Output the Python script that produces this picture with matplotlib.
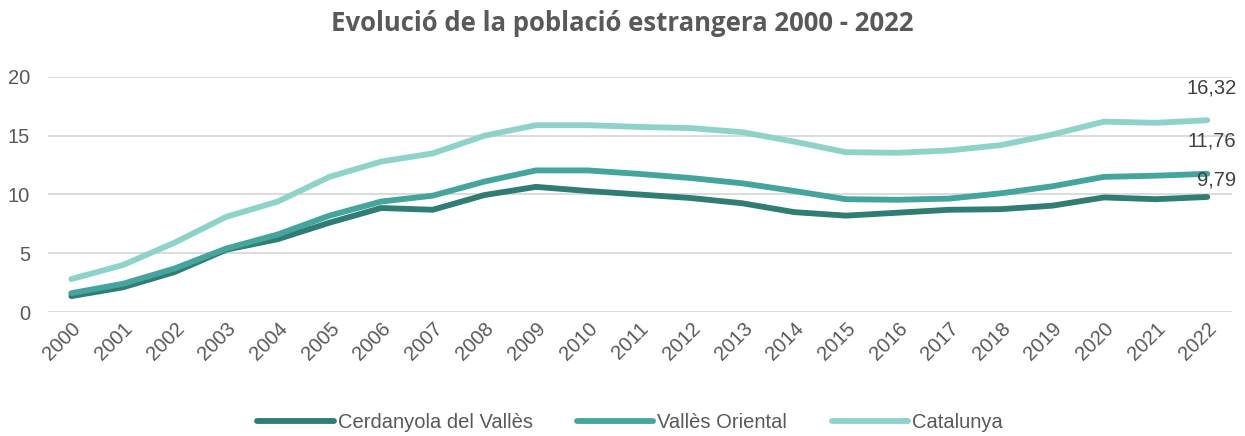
import matplotlib
matplotlib.use("Agg")
import matplotlib.pyplot as plt

years = [str(y) for y in range(2000, 2023)]
cerdanyola = [1.35, 2.1, 3.4, 5.3, 6.2, 7.6, 8.85, 8.7, 9.95, 10.65, 10.3, 10.0, 9.7,
              9.25, 8.5, 8.2, 8.45, 8.7, 8.75, 9.05, 9.75, 9.6, 9.79]
valles = [1.6, 2.4, 3.7, 5.4, 6.6, 8.2, 9.4, 9.9, 11.1, 12.05, 12.05, 11.75, 11.4,
          10.95, 10.3, 9.6, 9.55, 9.65, 10.1, 10.7, 11.5, 11.6, 11.76]
catalunya = [2.8, 4.0, 5.9, 8.1, 9.4, 11.5, 12.8, 13.5, 15.0, 15.9, 15.9, 15.75, 15.65,
             15.3, 14.5, 13.6, 13.55, 13.75, 14.2, 15.1, 16.2, 16.1, 16.32]
series_names = ["Cerdanyola del Vallès", "Vallès Oriental", "Catalunya"]
title = "Evolució de la població estrangera 2000 - 2022"

colors = ["#2F7D74", "#43A59D", "#8DD3CA"]
grey = "#595959"
plt.rcParams['font.family'] = ['Liberation Sans', 'DejaVu Sans']

fig = plt.figure(figsize=(12.45, 4.36), dpi=100)
ax = fig.add_axes([0.0386, 0.2844, 0.951, 0.539])
x = list(range(len(years)))
for vals, name, c in zip([cerdanyola, valles, catalunya], series_names, colors):
    ax.plot(x, vals, color=c, lw=4.2, label=name, solid_capstyle='round', solid_joinstyle='round')

offsets = [(29, 17), (29, 33), (29, 32)]
for vals, (dx, dy) in zip([cerdanyola, valles, catalunya], offsets):
    ax.annotate(f"{vals[-1]:.2f}".replace('.', ','), (x[-1], vals[-1]),
                xytext=(dx, dy), textcoords='offset pixels', ha='right', va='center',
                fontsize=14.5, color="#404040", annotation_clip=False)

ax.set_xlim(-0.45, 22.48)
ax.set_ylim(0, 20)
ax.set_yticks([0, 5, 10, 15, 20])
ax.set_xticks(x)
ax.set_xticklabels(years, rotation=45, ha='right', rotation_mode='anchor')
ax.tick_params(axis='both', length=0, labelsize=14.5, colors=grey)
ax.tick_params(axis='y', pad=13)
ax.tick_params(axis='x', pad=5)
ax.grid(axis='y', color='#D9D9D9', lw=1.3)
ax.set_axisbelow(True)
for s in ax.spines.values():
    s.set_visible(False)

fig.text(0.5, 0.947, title, ha='center', va='center', fontsize=18.5, fontweight='bold',
         color=grey, family=['Open Sans', 'DejaVu Sans'])
fig.legend(loc='center', bbox_to_anchor=(0.506, 0.03), ncol=3, frameon=False,
           fontsize=14.5, labelcolor=grey, handlelength=3.8, handletextpad=0.2,
           columnspacing=2.2)
fig.savefig("out.png", dpi=100)
